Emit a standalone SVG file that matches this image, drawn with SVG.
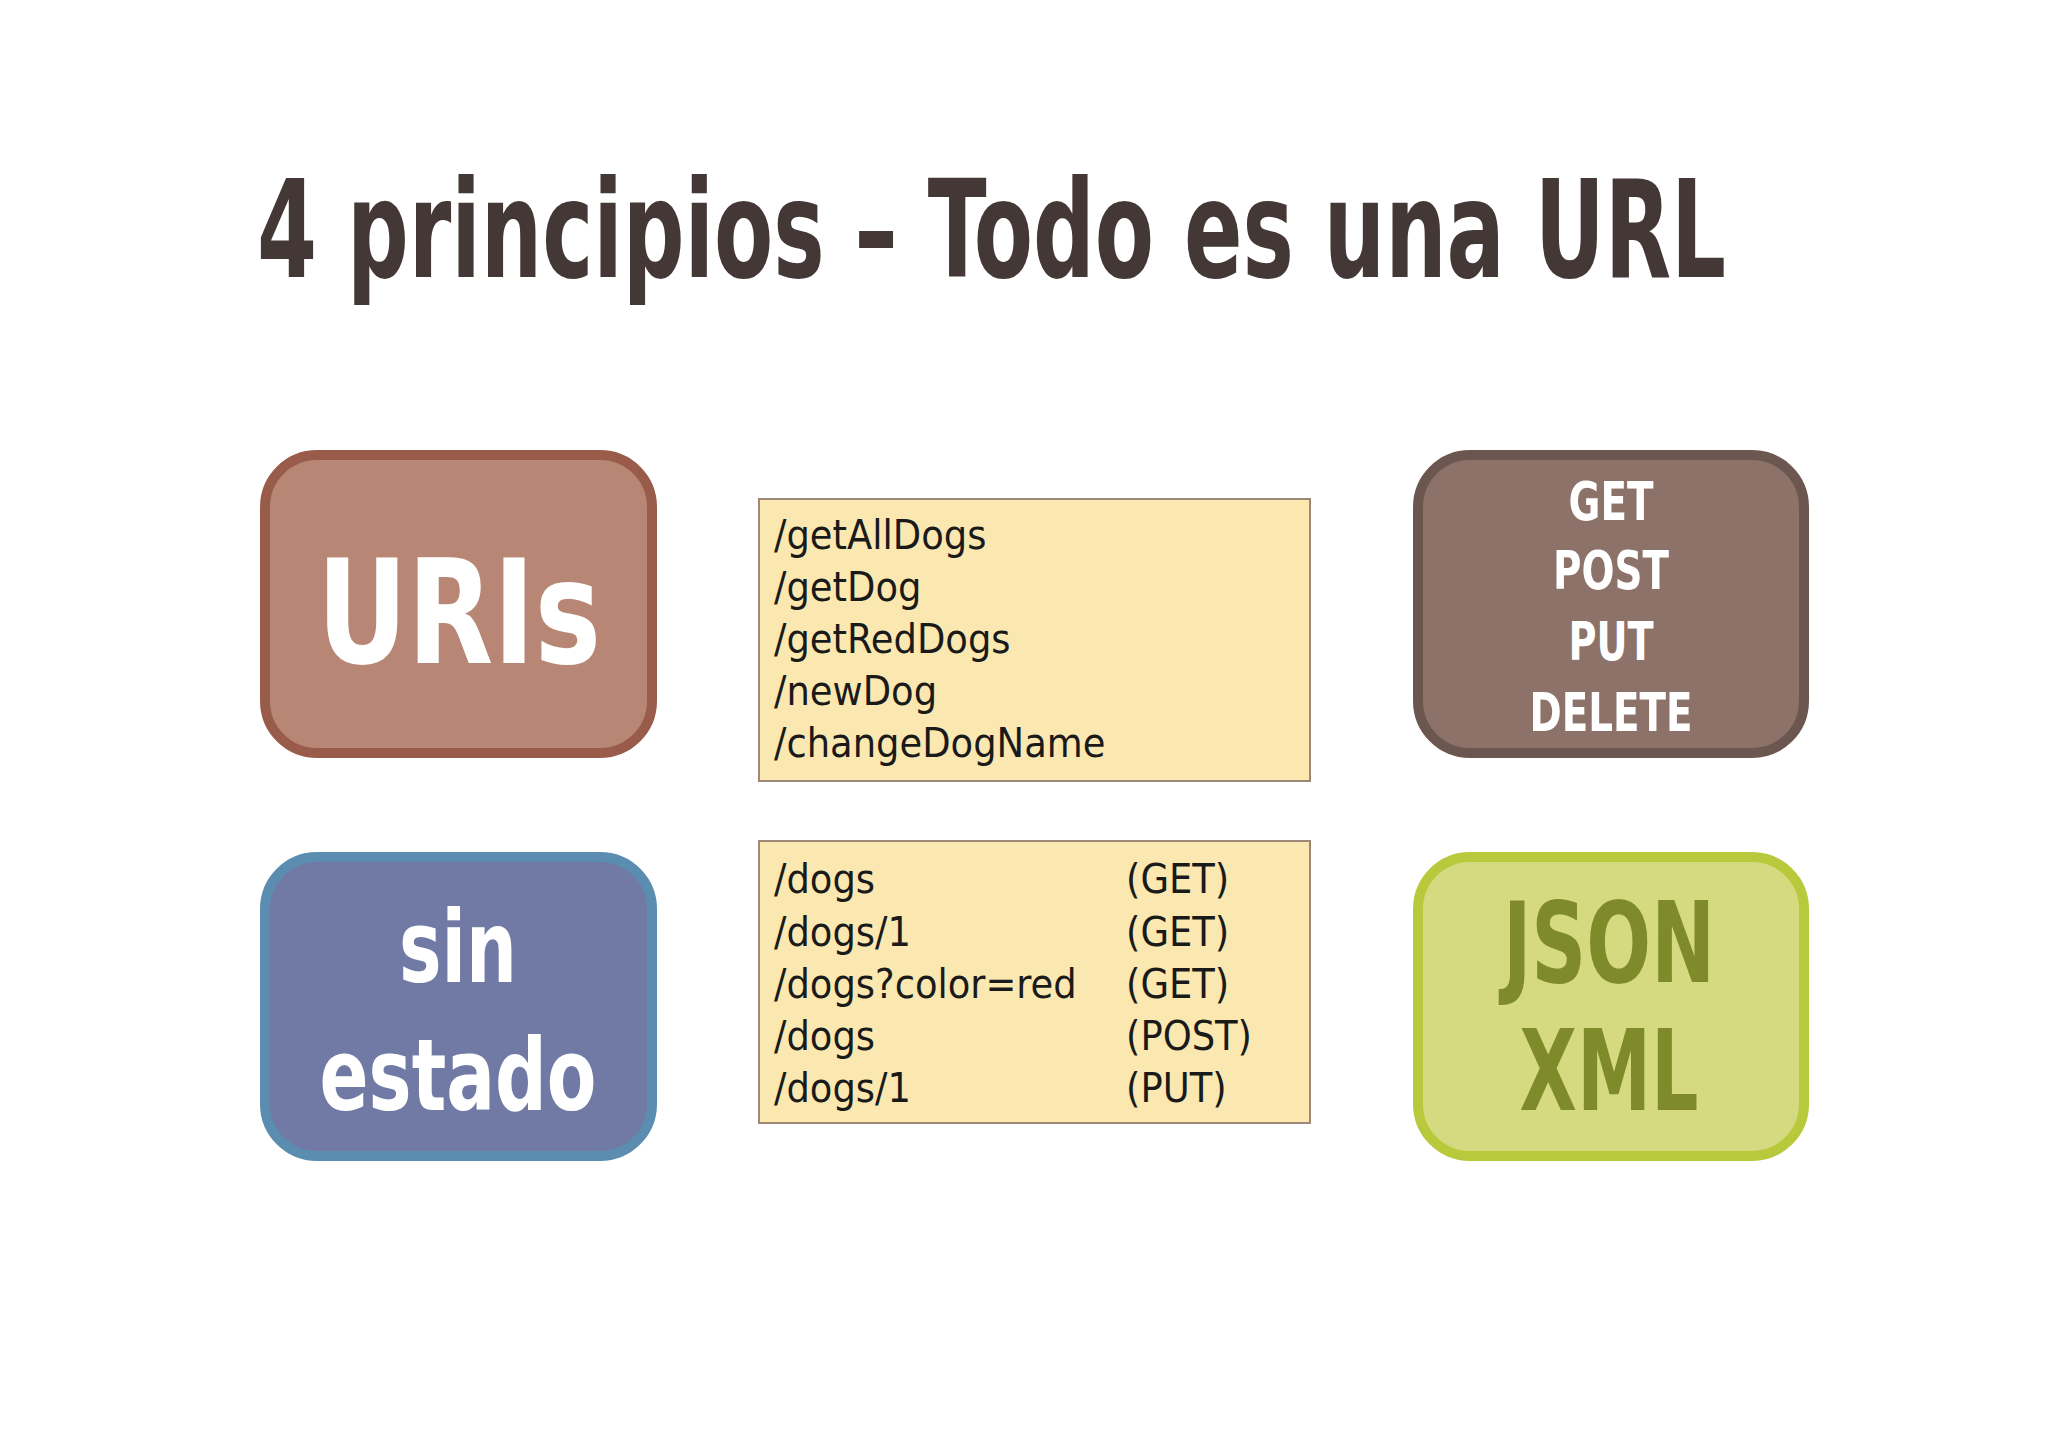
<svg xmlns="http://www.w3.org/2000/svg" width="2048" height="1447" viewBox="0 0 2048 1447">
<style>
.t{font-family:"Liberation Sans Narrow","DejaVu Sans Condensed","Liberation Sans",sans-serif}
.b{font-weight:bold;fill:#fff;text-anchor:middle}
.code{font-size:41px;fill:#1a1a1a}
.note{fill:#fae8b0;stroke:#a08878;stroke-width:2}
</style>
<rect width="2048" height="1447" fill="#ffffff"/>
<text class="t" x="257" y="277" font-size="136" font-weight="bold" fill="#433836" textLength="1469" lengthAdjust="spacingAndGlyphs">4 principios – Todo es una URL</text>
<g id="uris">
<rect x="265" y="455" width="387" height="298" rx="52" fill="#b88674" stroke="#9a5c4a" stroke-width="10"/>
<text class="t b" x="459" y="663" font-size="145" textLength="284" lengthAdjust="spacingAndGlyphs">URIs</text>
</g>
<g id="verbs-list">
<rect class="note" x="759" y="499" width="551" height="282"/>
<text class="t code" x="774" y="549">/getAllDogs</text>
<text class="t code" x="774" y="601">/getDog</text>
<text class="t code" x="774" y="653">/getRedDogs</text>
<text class="t code" x="774" y="705">/newDog</text>
<text class="t code" x="774" y="757">/changeDogName</text>
</g>
<g id="methods">
<rect x="1418" y="455" width="386" height="298" rx="52" fill="#8c7268" stroke="#6b5750" stroke-width="10"/>
<text class="t b" x="1611" y="520" font-size="54" textLength="85" lengthAdjust="spacingAndGlyphs">GET</text>
<text class="t b" x="1611" y="589" font-size="54" textLength="116" lengthAdjust="spacingAndGlyphs">POST</text>
<text class="t b" x="1611" y="660" font-size="54" textLength="85" lengthAdjust="spacingAndGlyphs">PUT</text>
<text class="t b" x="1611" y="731" font-size="54" textLength="163" lengthAdjust="spacingAndGlyphs">DELETE</text>
</g>
<g id="stateless">
<rect x="265" y="857" width="387" height="299" rx="52" fill="#707aa5" stroke="#5b8db0" stroke-width="10"/>
<text class="t b" x="458" y="982" font-size="100" textLength="118" lengthAdjust="spacingAndGlyphs">sin</text>
<text class="t b" x="458" y="1110" font-size="100" textLength="277" lengthAdjust="spacingAndGlyphs">estado</text>
</g>
<g id="rest-list">
<rect class="note" x="759" y="841" width="551" height="282"/>
<text class="t code" x="774" y="893">/dogs</text>
<text class="t code" x="774" y="946">/dogs/1</text>
<text class="t code" x="774" y="998">/dogs?color=red</text>
<text class="t code" x="774" y="1050">/dogs</text>
<text class="t code" x="774" y="1102">/dogs/1</text>
<text class="t code" x="1126" y="893">(GET)</text>
<text class="t code" x="1126" y="946">(GET)</text>
<text class="t code" x="1126" y="998">(GET)</text>
<text class="t code" x="1126" y="1050">(POST)</text>
<text class="t code" x="1126" y="1102">(PUT)</text>
</g>
<g id="formats">
<rect x="1418" y="857" width="386" height="299" rx="52" fill="#d5da80" stroke="#b9c93c" stroke-width="10"/>
<text class="t b" x="1609" y="982" font-size="112" style="fill:#7f8a2a" textLength="212" lengthAdjust="spacingAndGlyphs">JSON</text>
<text class="t b" x="1609" y="1110" font-size="112" style="fill:#7f8a2a" textLength="179" lengthAdjust="spacingAndGlyphs">XML</text>
</g>
<g id="connectors"></g>
</svg>
